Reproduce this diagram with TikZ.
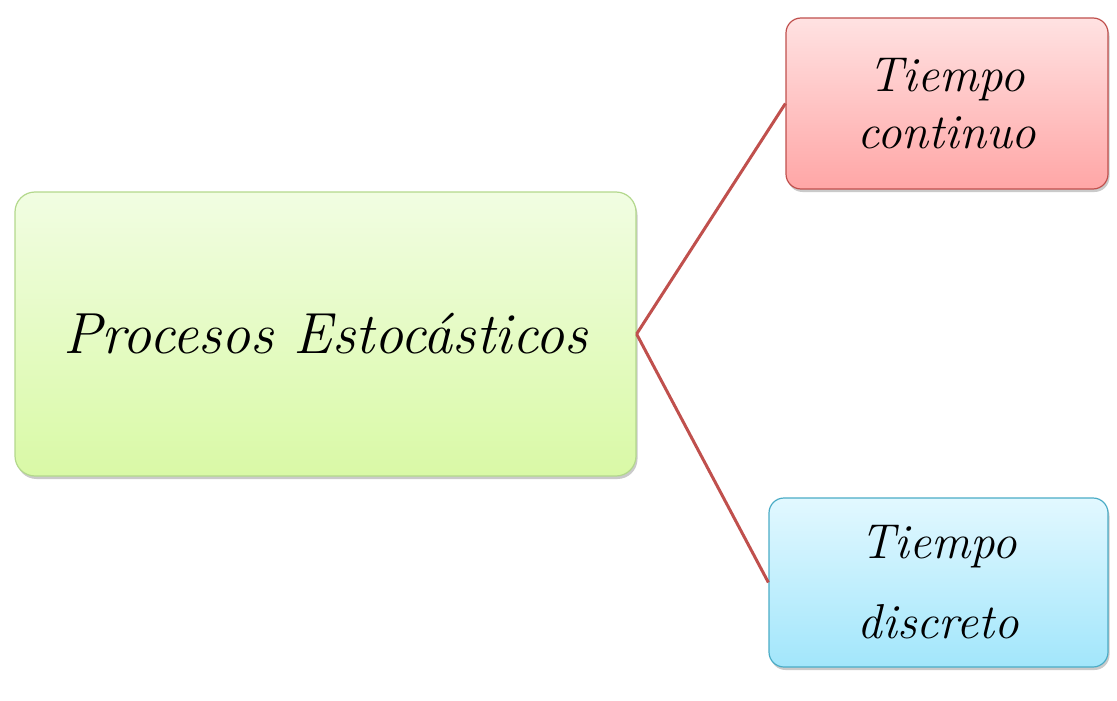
\documentclass[tikz,border=0pt]{standalone}
\usepackage{tikz}
\usetikzlibrary{shadows}
\definecolor{ProcGreenTop}{HTML}{F1FDE2}
\definecolor{ProcGreenBot}{HTML}{D9F9A6}
\definecolor{ProcGreenLine}{HTML}{B3D88C}
\definecolor{ContRedTop}{HTML}{FFE2E2}
\definecolor{ContRedBot}{HTML}{FFA6A6}
\definecolor{ContRedLine}{HTML}{C0504D}
\definecolor{DiscBlueTop}{HTML}{E2F8FF}
\definecolor{DiscBlueBot}{HTML}{A2E6FB}
\definecolor{DiscBlueLine}{HTML}{4BACC6}
\definecolor{LinkRed}{HTML}{C0504D}

\begin{document}
\begin{tikzpicture}[x=1pt,y=-1pt,
 card/.style={rounded corners=15pt,line width=1.2pt,align=center,inner sep=0pt,
 drop shadow={shadow xshift=1.5pt,shadow yshift=-3pt,opacity=0.35,fill=black!60}},
 link/.style={draw=LinkRed,line width=3pt}]
\useasboundingbox (0,0) rectangle (1117,701);
\node[card,rounded corners=20pt,draw=ProcGreenLine,top color=ProcGreenTop,bottom color=ProcGreenBot,
 minimum width=621pt,minimum height=284pt,font=\fontsize{58}{68}\selectfont\itshape] (proc) at (325.5,334) {Procesos Estoc\'asticos};
\node[card,draw=ContRedLine,top color=ContRedTop,bottom color=ContRedBot,
 minimum width=322pt,minimum height=171pt,font=\fontsize{49}{57}\selectfont\itshape] (cont) at (947,103.5) {Tiempo\\continuo};
\node[card,draw=DiscBlueLine,top color=DiscBlueTop,bottom color=DiscBlueBot,
 minimum width=339pt,minimum height=169pt,font=\fontsize{49}{80}\selectfont\itshape] (disc) at (938.5,582.5) {Tiempo\\discreto};
\draw[link] (proc.east) -- (cont.west);
\draw[link] (proc.east) -- (disc.west);
\end{tikzpicture}
\end{document}
